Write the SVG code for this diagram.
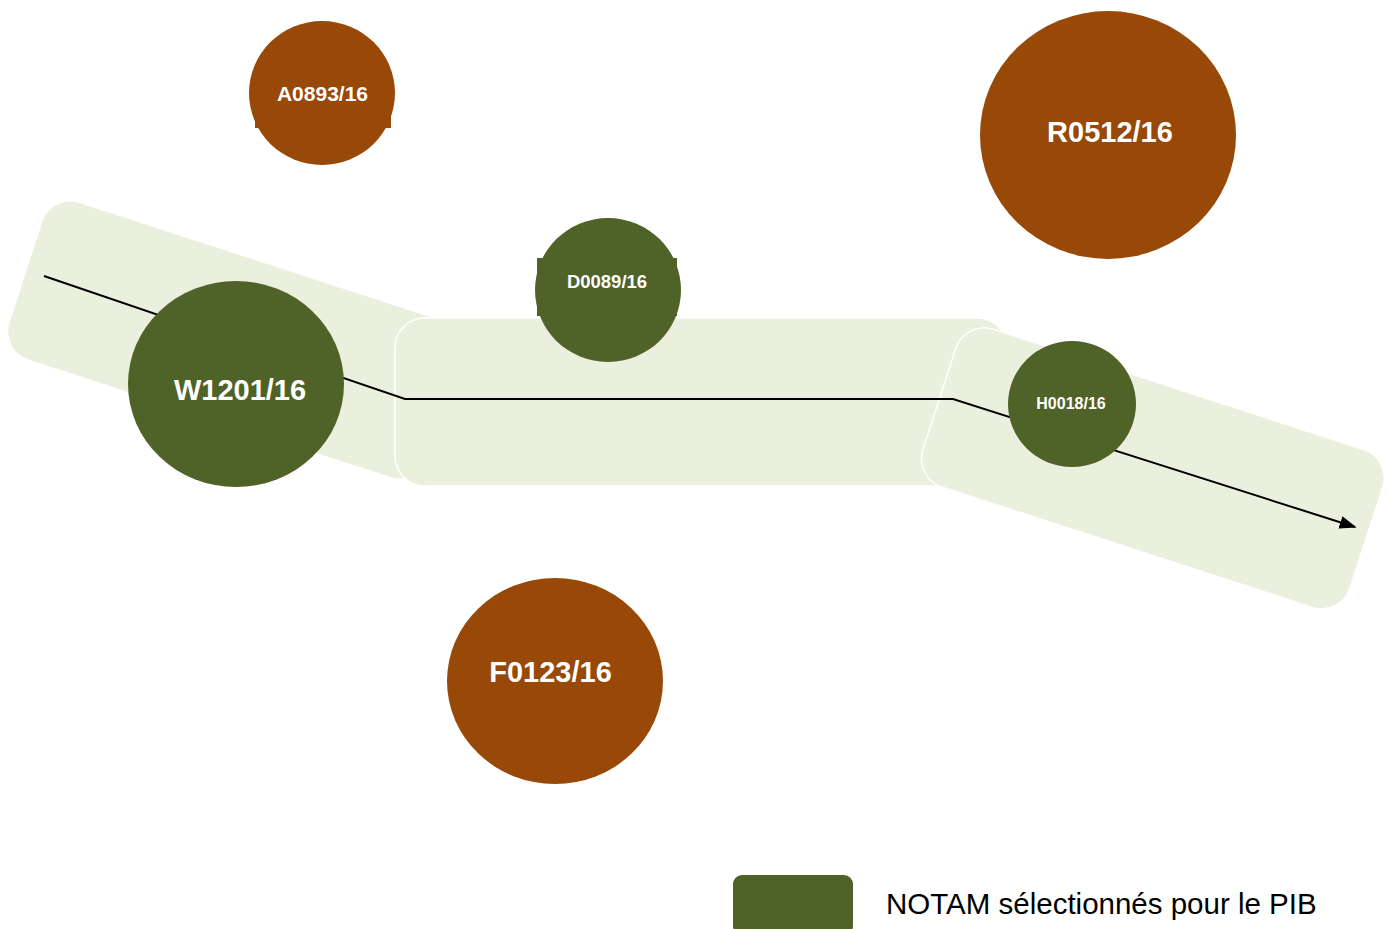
<svg xmlns="http://www.w3.org/2000/svg" width="1391" height="929" viewBox="0 0 1391 929">
<defs>
<style>
.band{fill:#EAF0DD;stroke:#FFFFFF;stroke-width:1.5}
.brown{fill:#984807}
.green{fill:#4F6228}
.lbl{font-family:"Liberation Sans",Arial,sans-serif;font-weight:bold;fill:#FFFFFF;text-anchor:middle}
.route{fill:none;stroke:#000000;stroke-width:2}
</style>
<marker id="arr" viewBox="0 0 10 10" refX="9" refY="5" markerWidth="17" markerHeight="13" markerUnits="userSpaceOnUse" orient="auto" preserveAspectRatio="none">
<path d="M0,0 L10,5 L0,10 z" fill="#000000"/>
</marker>
</defs>
<rect width="1391" height="929" fill="#FFFFFF"/>
<g id="bands">
<rect class="band" x="0" y="0" width="440" height="166" rx="30" transform="translate(51,193) rotate(18)"/>
<rect class="band" x="395" y="318" width="612" height="168" rx="30"/>
<rect class="band" x="0" y="0" width="449" height="166" rx="30" transform="translate(965,320) rotate(18)"/>
</g>
<g id="connectors">
<polyline class="route" points="44,276 405,399 953,399 1355,527" marker-end="url(#arr)"/>
</g>
<g id="A0893">
<ellipse class="brown" cx="322" cy="93" rx="73" ry="72"/>
<rect class="brown" x="255" y="70" width="136" height="58"/>
<text class="lbl" x="322.5" y="101" font-size="21">A0893/16</text>
</g>
<g id="R0512">
<ellipse class="brown" cx="1108" cy="135" rx="128" ry="124"/>
<text class="lbl" x="1110" y="142" font-size="29">R0512/16</text>
</g>
<g id="D0089">
<ellipse class="green" cx="608" cy="290" rx="73" ry="72"/>
<rect class="green" x="537" y="258" width="140" height="58"/>
<text class="lbl" x="607" y="287.5" font-size="18.5">D0089/16</text>
</g>
<g id="W1201">
<ellipse class="green" cx="236" cy="384" rx="108" ry="103"/>
<text class="lbl" x="240" y="400" font-size="29">W1201/16</text>
</g>
<g id="H0018">
<ellipse class="green" cx="1072" cy="404" rx="64" ry="63"/>
<text class="lbl" x="1071" y="408.5" font-size="16">H0018/16</text>
</g>
<g id="F0123">
<ellipse class="brown" cx="555" cy="681" rx="108" ry="103"/>
<text class="lbl" x="550.5" y="682" font-size="29">F0123/16</text>
</g>
<g id="legend">
<rect class="green" x="733" y="875" width="120" height="60" rx="9"/>
<text x="886" y="914" font-family="'Liberation Sans',Arial,sans-serif" font-size="29.5" fill="#000000">NOTAM sélectionnés pour le PIB</text>
</g>
</svg>
